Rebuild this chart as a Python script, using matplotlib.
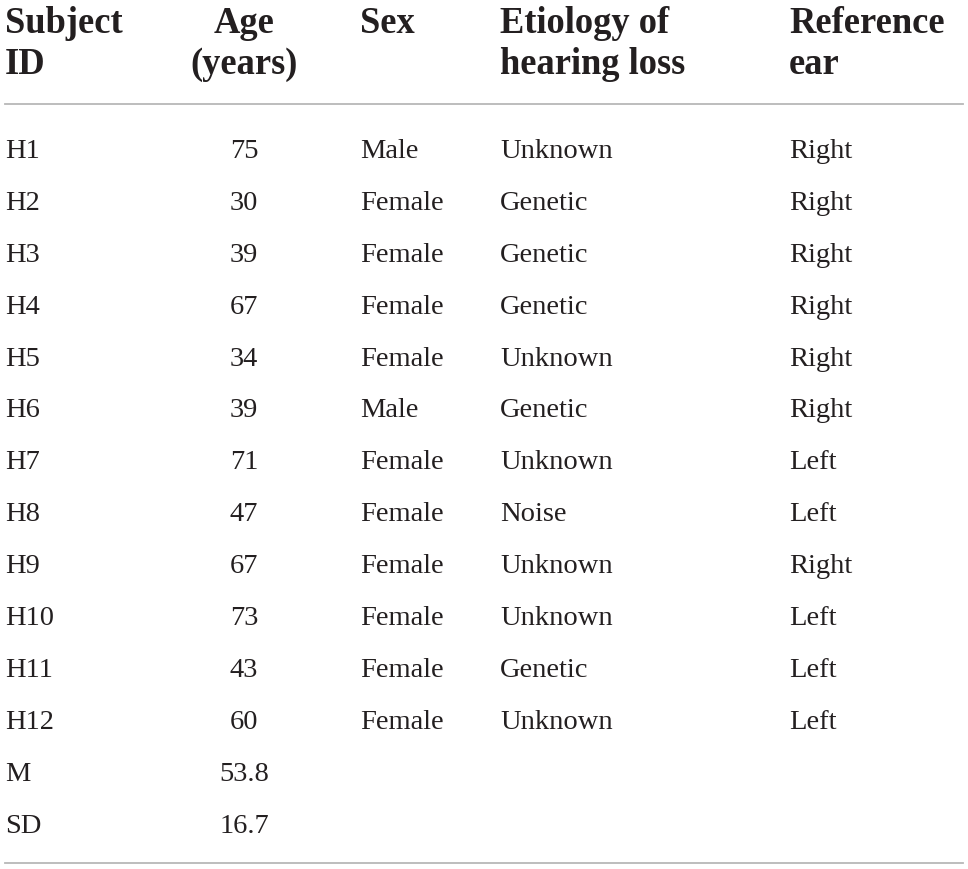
import matplotlib.pyplot as plt

subject_ids = ['H1', 'H2', 'H3', 'H4', 'H5', 'H6', 'H7', 'H8', 'H9', 'H10', 'H11', 'H12', 'M', 'SD']
ages = ['75', '30', '39', '67', '34', '39', '71', '47', '67', '73', '43', '60', '53.8', '16.7']
sexes = ['Male', 'Female', 'Female', 'Female', 'Female', 'Male', 'Female', 'Female',
         'Female', 'Female', 'Female', 'Female', '', '']
etiology = ['Unknown', 'Genetic', 'Genetic', 'Genetic', 'Unknown', 'Genetic', 'Unknown',
            'Noise', 'Unknown', 'Unknown', 'Genetic', 'Unknown', '', '']
ref_ear = ['Right', 'Right', 'Right', 'Right', 'Right', 'Right', 'Left', 'Left',
           'Right', 'Left', 'Left', 'Left', '', '']
headers = [('Subject', 'ID'), ('Age', '(years)'), ('Sex', ''),
           ('Etiology of', 'hearing loss'), ('Reference', 'ear')]

plt.rcParams['font.family'] = ['Liberation Serif', 'DejaVu Serif']

fig = plt.figure(figsize=(9.68, 8.70), dpi=100)
ax = fig.add_axes([0, 0, 1, 1])
ax.set_xlim(0, 968)
ax.set_ylim(870, 0)
ax.axis('off')

# column x positions and alignment
col_x = [5, 244, 360, 500, 789]
col_ha = ['left', 'center', 'left', 'left', 'left']
txt = '#231f20'

for x, ha, (l1, l2) in zip(col_x, col_ha, headers):
    ax.text(x, 33, l1, ha=ha, va='baseline', fontsize=26.3, fontweight='bold', color=txt)
    if l2:
        ax.text(x, 74, l2, ha=ha, va='baseline', fontsize=26.3, fontweight='bold', color=txt)

ax.plot([5, 963], [105, 105], color='#b8b8b8', lw=1.3)
ax.plot([5, 963], [864, 864], color='#b8b8b8', lw=1.3)

columns = [subject_ids, ages, sexes, etiology, ref_ear]
for i in range(len(subject_ids)):
    y = 158 + i * 51.9
    for x, ha, col in zip(col_x, col_ha, columns):
        if col[i]:
            ax.text(x, y, col[i], ha=ha, va='baseline', fontsize=20.5, color=txt)

fig.savefig('out.png', dpi=100, facecolor='white')
